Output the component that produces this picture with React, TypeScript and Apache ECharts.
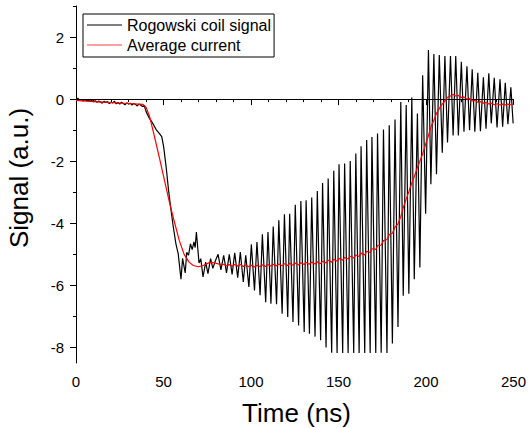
import React, { useEffect, useRef } from 'react';
import * as echarts from 'echarts';

// ---- Data ----
const seriesNames = ['Rogowski coil signal', 'Average current'];

const xTicks = [0, 50, 100, 150, 200, 250];
const yTickLabels = [-8, -6, -4, -2, 0, 2];
const yMinorTicks = [-7, -5, -3, -1, 1, 3];

// Rogowski coil signal: quiet baseline, fall and irregular ringing (0–80 ns)
const blackEarlyTimes = [
  0, 1, 2, 3, 4, 5, 6, 7, 8, 9, 10, 11, 12, 13, 14, 15, 16, 17, 18, 19,
  20, 21, 22, 23, 24, 25, 26, 27, 28, 29, 30, 31, 32, 33, 34, 35, 36, 37, 38, 39,
  40.1, 42, 43.9, 45.8, 47.7, 49, 50.1, 51.5, 52.9, 54.3,
  55.6, 57.1, 58.4, 60, 60.9, 62.4, 63.3, 64.3, 65.4, 66.4,
  67.4, 68.1, 68.8, 70.3, 71.3, 72.6, 74.1, 75.4, 76.9, 78.2, 79.7,
];
const blackEarlyValues = [
  -0.02, 0.03, -0.03, -0.01, -0.06, -0.02, -0.05, -0.03, -0.07, -0.04,
  -0.08, -0.05, -0.1, -0.06, -0.09, -0.13, -0.07, -0.11, -0.08, -0.14,
  -0.1, -0.12, -0.07, -0.15, -0.11, -0.16, -0.1, -0.14, -0.18, -0.12,
  -0.16, -0.13, -0.19, -0.14, -0.17, -0.22, -0.16, -0.2, -0.24, -0.21,
  -0.41, -0.62, -0.78, -0.98, -1.11, -1.21, -1.54, -2.18, -2.94, -3.58,
  -4.12, -4.66, -4.98, -5.8, -5.13, -5.6, -4.93, -5.03, -4.66, -4.85,
  -4.6, -4.78, -4.28, -5.28, -5.14, -5.73, -5.25, -5.62, -5.14, -5.45, -5.2,
];

// Regular ringing (80–250 ns): local maxima and minima
const blackPeakTimes = [
  81.2, 84.4, 87.6, 90.7, 93.9, 97.0, 100.2, 103.4, 106.5, 109.7,
  112.7, 115.9, 119.1, 122.1, 125.3, 128.5, 131.5, 134.7, 137.9, 140.9,
  144.1, 147.3, 150.3, 153.5, 156.7, 159.9, 162.9, 166.1, 169.1, 172.3,
  175.7, 179.0, 182.3, 185.6, 188.7, 191.9, 195.1, 198.1, 201.4, 204.5,
  207.6, 210.8, 214.0, 217.0, 220.2, 223.4, 226.4, 229.6, 232.8, 235.9,
  239.0, 242.3, 245.3, 248.5,
];
const blackPeakValues = [
  -5.0, -5.03, -5.0, -4.95, -4.93, -5.03, -4.68, -4.6, -4.35, -4.28,
  -4.1, -3.9, -3.71, -3.69, -3.4, -3.28, -3.26, -3.17, -2.96, -2.7,
  -2.56, -2.31, -2.1, -2.07, -1.99, -1.75, -1.52, -1.32, -1.22, -1.11,
  -0.98, -0.84, -0.66, -0.09, -0.19, 0.05, -0.46, 0.77, 1.58, 1.45,
  1.42, 1.39, 1.39, 1.39, 1.2, 1.06, 0.96, 0.85, 0.7, 0.83,
  0.69, 0.64, 0.53, 0.38,
];
const blackTroughTimes = [
  82.8, 86.0, 89.2, 92.4, 95.6, 98.8, 102.0, 105.2, 108.4, 111.4,
  114.6, 117.8, 121.0, 124.0, 127.2, 130.4, 133.4, 136.6, 139.8, 142.9,
  146.1, 149.2, 152.4, 155.5, 158.7, 161.8, 165.0, 168.1, 171.3, 174.4,
  177.7, 180.8, 184.0, 187.0, 190.2, 193.3, 196.5, 199.8, 202.8, 206.0,
  209.3, 212.3, 215.5, 218.5, 221.7, 224.9, 227.9, 231.1, 234.3, 237.3,
  240.6, 243.8, 246.8, 249.8,
];
const blackTroughValues = [
  -5.5, -5.6, -5.65, -5.75, -5.89, -6.05, -6.16, -6.32, -6.54, -6.59,
  -6.61, -6.91, -7.02, -7.18, -7.29, -7.5, -7.56, -7.65, -7.77, -8.0,
  -8.17, -8.18, -8.18, -8.18, -8.18, -8.18, -8.18, -8.18, -8.18, -8.17,
  -8.18, -7.87, -7.34, -6.33, -6.27, -5.8, -5.42, -3.69, -2.74, -2.42,
  -1.73, -1.4, -1.17, -1.17, -1.05, -1.0, -1.05, -1.03, -0.95, -0.78,
  -0.91, -0.89, -0.81, -0.78,
];

// Average current
const redTimes = [
  0, 10, 20, 30, 35.4, 38.3, 40, 42, 44.9, 47.7, 50.5, 53.3, 56.2, 59, 61.8,
  64.6, 67, 70, 73, 76.5, 79, 82.8,
  84.4, 86.0, 87.6, 89.2, 90.7, 92.4, 93.9, 95.6, 97.0, 98.8,
  100.2, 102.0, 103.4, 105.2, 106.5, 108.4, 109.7, 111.4, 112.7, 114.6,
  115.9, 117.8, 119.1, 121.0, 122.1, 124.0, 125.3, 127.2, 128.5, 130.4,
  131.5, 133.4, 134.7, 136.6, 137.9, 139.8, 140.9, 142.9, 144.1, 146.1,
  147.3, 149.2, 150.3, 152.4, 153.5, 155.5, 156.7, 158.7, 159.9, 161.8,
  162.9, 165.0, 166.1, 168.1, 169.1, 171.3, 172.3, 174.4, 175.7, 177.7,
  179.0, 180.8, 182.3, 184.0, 185.6, 187.0, 188.7, 190.2, 191.9, 193.3,
  195.1, 196.5, 198.1, 199.8, 201.4, 202.8, 204.5, 206.0, 207.6, 209.3,
  210.8, 212.3, 214.0, 215.5, 217.0, 218.5, 220.2, 221.7, 223.4, 224.9,
  226.4, 227.9, 229.6, 231.1, 232.8, 234.3, 235.9, 237.3, 239.0, 240.6,
  242.3, 243.8, 245.3, 246.8, 248.5, 250,
];
const redValues = [
  -0.04, -0.08, -0.11, -0.14, -0.16, -0.17, -0.26, -0.55, -1.22, -1.9, -2.6, -3.3, -3.95, -4.55, -5.0,
  -5.25, -5.36, -5.4, -5.35, -5.26, -5.27, -5.33,
  -5.32, -5.37, -5.33, -5.38, -5.33, -5.38, -5.33, -5.39, -5.34, -5.4,
  -5.35, -5.41, -5.35, -5.4, -5.34, -5.39, -5.33, -5.38, -5.32, -5.37,
  -5.31, -5.37, -5.3, -5.36, -5.29, -5.35, -5.28, -5.34, -5.27, -5.33,
  -5.26, -5.32, -5.25, -5.31, -5.24, -5.3, -5.22, -5.28, -5.19, -5.25,
  -5.16, -5.22, -5.13, -5.19, -5.1, -5.15, -5.06, -5.12, -5.02, -5.07,
  -4.96, -5.02, -4.9, -4.94, -4.82, -4.84, -4.72, -4.7, -4.56, -4.52,
  -4.36, -4.32, -4.12, -4.02, -3.78, -3.5, -3.22, -2.98, -2.7, -2.5,
  -2.2, -2.0, -1.76, -1.45, -1.18, -0.9, -0.68, -0.46, -0.3, -0.16,
  -0.06, 0.06, 0.1, 0.15, 0.1, 0.12, 0.05, 0.07, 0.0, 0.02,
  -0.06, -0.04, -0.1, -0.08, -0.13, -0.11, -0.16, -0.13, -0.18, -0.15,
  -0.19, -0.16, -0.19, -0.16, -0.18, -0.16,
];

const FONT = '"Liberation Sans", Arial, Helvetica, sans-serif';
const LINE_ICON = 'path://M0,0 L70,0 L70,2 L0,2 Z';

export default function App() {
  const ref = useRef<HTMLDivElement>(null);

  useEffect(() => {
    if (!ref.current) return;
    const chart = echarts.init(ref.current, null, { renderer: 'svg' });

    const blackData: number[][] = blackEarlyTimes.map((t, i) => [t, blackEarlyValues[i]]);
    blackPeakTimes.forEach((t, i) => {
      blackData.push([t, blackPeakValues[i]]);
      blackData.push([blackTroughTimes[i], blackTroughValues[i]]);
    });
    const redData = redTimes.map((t, i) => [t, redValues[i]]);

    chart.setOption({
      animation: false,
      backgroundColor: '#ffffff',
      textStyle: { fontFamily: FONT },
      grid: { left: 76, right: 11, top: 6, bottom: 65 },
      legend: {
        orient: 'vertical',
        left: 83,
        top: 14,
        itemWidth: 35,
        itemHeight: 16,
        itemGap: 4,
        padding: [3, 3, 4, 4],
        borderColor: '#000',
        borderWidth: 1,
        borderRadius: 0,
        backgroundColor: '#fff',
        symbolKeepAspect: true,
        icon: LINE_ICON,
        textStyle: { fontSize: 16, color: '#000', fontFamily: FONT },
        data: [
          { name: seriesNames[0], icon: LINE_ICON, itemStyle: { color: '#000' } },
          { name: seriesNames[1], icon: LINE_ICON, itemStyle: { color: '#ff4040' } },
        ],
      },
      xAxis: {
        type: 'value',
        min: xTicks[0],
        max: xTicks[xTicks.length - 1],
        interval: 50,
        axisLine: { show: true, lineStyle: { color: '#000', width: 1 } },
        axisTick: { show: true, length: 6, lineStyle: { color: '#000', width: 1 } },
        minorTick: { show: true, splitNumber: 5, length: 3, lineStyle: { color: '#000', width: 1 } },
        axisLabel: { fontSize: 15, color: '#000', margin: 11, fontFamily: FONT },
        splitLine: { show: false },
        minorSplitLine: { show: false },
      },
      yAxis: [
        {
          type: 'value',
          min: -8.5,
          max: 3,
          axisLine: { show: true, lineStyle: { color: '#000', width: 1 } },
          axisTick: { show: true, length: 6, customValues: yTickLabels, lineStyle: { color: '#000', width: 1 } },
          axisLabel: { fontSize: 15, color: '#000', margin: 12, customValues: yTickLabels, fontFamily: FONT },
          splitLine: { show: false },
        },
        {
          type: 'value',
          min: -8.5,
          max: 3,
          position: 'left',
          axisLine: { show: false },
          axisTick: { show: true, length: 3, customValues: yMinorTicks, lineStyle: { color: '#000', width: 1 } },
          axisLabel: { show: false },
          splitLine: { show: false },
        },
      ],
      series: [
        {
          name: seriesNames[0],
          type: 'line',
          data: blackData,
          symbol: 'none',
          showSymbol: false,
          lineStyle: { color: '#000', width: 1.2 },
          itemStyle: { color: '#000' },
          z: 2,
        },
        {
          name: seriesNames[1],
          type: 'line',
          data: redData,
          symbol: 'none',
          showSymbol: false,
          lineStyle: { color: '#ff0000', width: 1.2 },
          itemStyle: { color: '#ff0000' },
          z: 3,
        },
      ],
      graphic: [
        {
          type: 'text',
          x: 18.5,
          y: 178,
          rotation: Math.PI / 2,
          style: {
            text: 'Signal (a.u.)',
            font: `26px ${FONT}`,
            fill: '#000',
            textAlign: 'center',
            textVerticalAlign: 'middle',
          },
        },
        {
          type: 'text',
          x: 296.5,
          y: 412.5,
          style: {
            text: 'Time (ns)',
            font: `26px ${FONT}`,
            fill: '#000',
            textAlign: 'center',
            textVerticalAlign: 'middle',
          },
        },
      ],
    });

    return () => chart.dispose();
  }, []);

  return (
    <div
      ref={ref}
      style={{ position: 'fixed', left: 0, top: 0, width: 529, height: 428, background: '#fff' }}
    />
  );
}
